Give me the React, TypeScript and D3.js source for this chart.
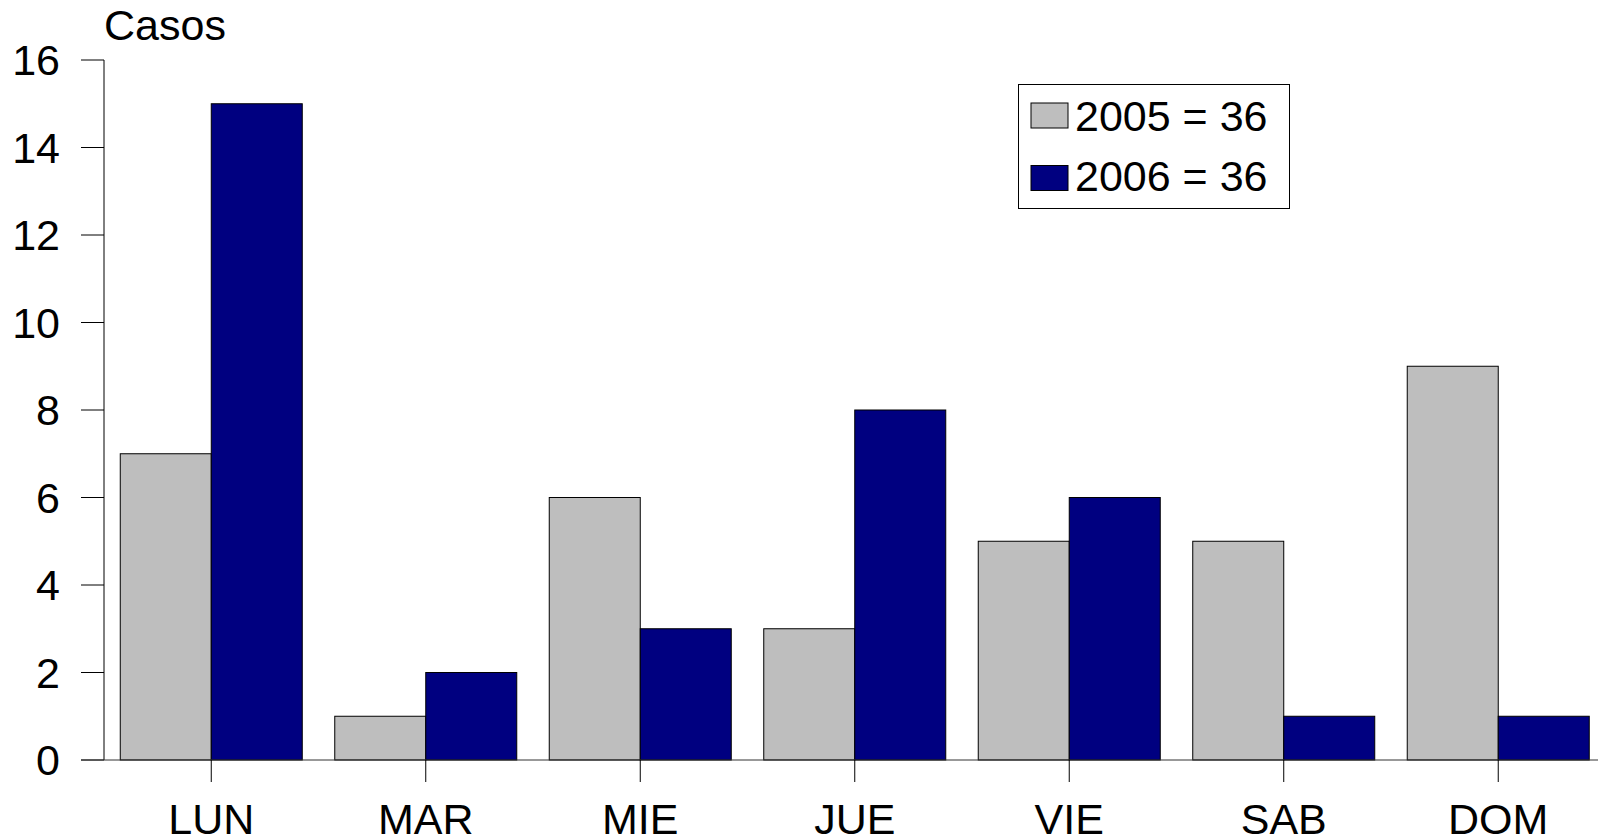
import React from "react";
import * as d3 from "d3";

const days = ["LUN", "MAR", "MIE", "JUE", "VIE", "SAB", "DOM"];
const series = ["2005", "2006"];
const values2005 = [7, 1, 6, 3, 5, 5, 9];
const values2006 = [15, 2, 3, 8, 6, 1, 1];
const colors = ["#bebebe", "#000080"];
const legendLabels = ["2005 = 36", "2006 = 36"];
const yTicks = [0, 2, 4, 6, 8, 10, 12, 14, 16];

const W = 1598;
const H = 838;
const FONT = "'Liberation Sans', Arial, Helvetica, sans-serif";

export default function App() {
  const y = d3.scaleLinear().domain([0, 16]).range([760, 60]);
  const x = d3
    .scaleBand<string>()
    .domain(days)
    .range([104, 1605.5])
    .paddingInner(0.1515)
    .paddingOuter(0.0758);
  const xs = d3.scaleBand<string>().domain(series).range([0, x.bandwidth()]);
  const data = [values2005, values2006];
  const axisX = 104;
  const baseY = y(0);

  return (
    <div style={{ position: "fixed", left: 0, top: 0 }}>
      <svg width={W} height={H} style={{ display: "block", background: "#fff" }} fontFamily={FONT}>
        {days.map((d, i) =>
          series.map((s, j) => {
            const v = data[j][i];
            const x0 = (x(d) as number) + (xs(s) as number);
            return (
              <rect
                key={d + s}
                x={x0}
                y={y(v)}
                width={xs.bandwidth()}
                height={baseY - y(v)}
                fill={colors[j]}
                stroke="#000"
                strokeWidth={1}
              />
            );
          })
        )}
        {/* y axis */}
        <line x1={axisX} x2={axisX} y1={y(16)} y2={baseY} stroke="#000" strokeWidth={1} />
        {yTicks.map((t) => (
          <g key={t}>
            <line x1={81} x2={axisX} y1={y(t)} y2={y(t)} stroke="#000" strokeWidth={1} />
            <text x={60} y={y(t)} dy="0.36em" textAnchor="end" fontSize={43} fill="#000">
              {t}
            </text>
          </g>
        ))}
        {/* x baseline */}
        <line x1={81} x2={W} y1={baseY} y2={baseY} stroke="#333" strokeWidth={1} />
        {days.map((d) => {
          const cx = (x(d) as number) + x.bandwidth() / 2;
          return (
            <g key={d}>
              <line x1={cx} x2={cx} y1={baseY} y2={782} stroke="#000" strokeWidth={1} />
              <text x={cx} y={834} textAnchor="middle" fontSize={43} fill="#000">
                {d}
              </text>
            </g>
          );
        })}
        <text x={104} y={40} fontSize={43} fill="#000">
          Casos
        </text>
        {/* legend */}
        <rect x={1018.5} y={84.5} width={271} height={124} fill="#fff" stroke="#000" strokeWidth={1} />
        {legendLabels.map((l, j) => (
          <g key={l}>
            <rect
              x={1031}
              y={103 + j * 62.5}
              width={37}
              height={25}
              fill={colors[j]}
              stroke="#000"
              strokeWidth={1}
            />
            <text x={1075} y={131 + j * 60} fontSize={43} fill="#000">
              {l}
            </text>
          </g>
        ))}
      </svg>
    </div>
  );
}
